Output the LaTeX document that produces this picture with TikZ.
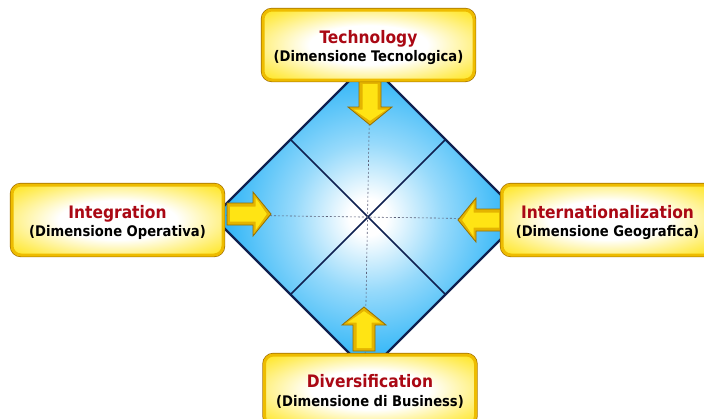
\documentclass[tikz,border=0pt]{standalone}
\usepackage{fontspec}
\setmainfont{DejaVu Sans Condensed}
\definecolor{navy}{RGB}{15,32,80}
\definecolor{skyc}{RGB}{22,172,246}
\definecolor{boxy}{RGB}{255,226,0}
\definecolor{boxedge}{RGB}{238,188,0}
\definecolor{boxdark}{RGB}{165,115,0}
\definecolor{dred}{RGB}{170,8,20}
\definecolor{arrowgold}{RGB}{228,180,0}
\definecolor{arrowface}{RGB}{255,228,20}
\definecolor{arrowline}{RGB}{150,110,0}
\definecolor{dashgray}{RGB}{90,95,120}
\pgfdeclareradialshading{diamondglow}{\pgfpoint{0bp}{0bp}}{color(0bp)=(white); color(3bp)=(white); color(12bp)=(skyc!45!white); color(24bp)=(skyc!92!white); color(32bp)=(skyc); color(50bp)=(skyc)}
\pgfdeclareradialshading{boxglow}{\pgfpoint{0bp}{0bp}}{color(0bp)=(white); color(14bp)=(white); color(28bp)=(boxy!60!white); color(38bp)=(boxy); color(50bp)=(boxy)}
\tikzset{
  x=1pt, y=-1pt,
  box/.style={rounded corners=9pt, minimum width=211pt, minimum height=70pt,
    shading=boxglow, draw=boxedge, line width=3pt,
    preaction={draw=boxdark, line width=4.4pt}},
  lbl/.style={align=center, font=\bfseries\fontsize{14.6}{18.5}\selectfont, text=black, inner sep=0pt},
  pics/barrow/.style={code={
    \path[draw=arrowline, line width=0.8pt, fill=arrowgold]
      (0,-11) -- (26,-11) -- (26,-22) -- (44,0) -- (26,22) -- (26,11) -- (0,11) -- cycle;
    \path[fill=arrowface]
      (3,-7.5) -- (28.5,-7.5) -- (28.5,-16.5) -- (39.8,0) -- (28.5,16.5) -- (28.5,7.5) -- (3,7.5) -- cycle;
  }},
  rim/.style={draw=navy, line width=2.2pt, line join=miter},
  split/.style={draw=navy, line width=1.5pt},
  axisline/.style={draw=dashgray, line width=0.6pt, dash pattern=on 2pt off 2pt}
}
\newcommand{\ttlx}[1]{{\fontsize{17.2}{18.5}\selectfont\color{dred}#1}}
\begin{document}
\begin{tikzpicture}
\useasboundingbox (0,0) rectangle (704,418);
\clip (0,0) rectangle (704,418);
\fill[white] (0,0) rectangle (704,418);
% diamond
\coordinate (dt) at (368,62);
\coordinate (dr) at (523,217);
\coordinate (db) at (368,372);
\coordinate (dl) at (213,217);
\coordinate (mtl) at (290.5,139.5);
\coordinate (mtr) at (445.5,139.5);
\coordinate (mbl) at (290.5,294.5);
\coordinate (mbr) at (445.5,294.5);
\coordinate (vt) at (370,80);
\coordinate (vb) at (365,356);
\coordinate (hl) at (222,215);
\coordinate (hr) at (503,219);
\shade[shading=diamondglow] (dt) -- (dr) -- (db) -- (dl) -- cycle;
\draw[split] (mtl) -- (mbr);
\draw[split] (mtr) -- (mbl);
\draw[axisline] (vt) -- (vb);
\draw[axisline] (hl) -- (hr);
\draw[rim] (dt) -- (dr) -- (db) -- (dl) -- cycle;
% arrows
\pic[rotate=-90] at (370,81) {barrow};
\pic at (227,214) {barrow};
\pic[rotate=180] at (502,220) {barrow};
\pic[rotate=90] at (364,351) {barrow};
% boxes
\node[box] (tech) at (368.5,45) {};
\node[box] (integ) at (117.5,220) {};
\node[box] (intl) at (607.5,220) {};
\node[box] (div) at (370,390) {};
\node[lbl] (techtxt) at ([yshift=-2.5pt]tech.center) {\ttlx{Technology}\\(Dimensione Tecnologica)};
\node[lbl] (integtxt) at ([yshift=-2.5pt]integ.center) {\ttlx{Integration}\\(Dimensione Operativa)};
\node[lbl] (intltxt) at ([yshift=-2.5pt]intl.center) {\ttlx{Internationalization}\\(Dimensione Geografica)};
\node[lbl] (divtxt) at ([yshift=-1.5pt]div.center) {\ttlx{Diversification}\\(Dimensione di Business)};
\end{tikzpicture}
\end{document}
